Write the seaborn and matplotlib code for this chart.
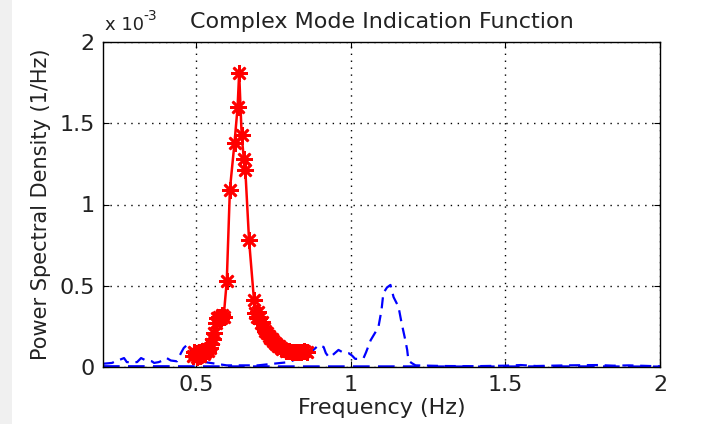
import matplotlib
matplotlib.use("Agg")
import matplotlib.pyplot as plt
import seaborn as sns
import pandas as pd
from matplotlib.patches import Rectangle

# ---- data (PSD values in units of 1e-3 1/Hz) ----
red_freq = [0.49, 0.495, 0.50, 0.505, 0.51, 0.515, 0.52, 0.525, 0.53, 0.535, 0.54, 0.545,
            0.55, 0.555, 0.56, 0.565, 0.57, 0.575, 0.58, 0.585, 0.59, 0.60, 0.61, 0.625,
            0.635, 0.64, 0.648, 0.655, 0.66, 0.672, 0.688, 0.692, 0.697, 0.70, 0.705, 0.71,
            0.715, 0.72, 0.725, 0.73, 0.735, 0.74, 0.745, 0.75, 0.755, 0.76, 0.765, 0.77,
            0.775, 0.78, 0.79, 0.80, 0.81, 0.82, 0.83, 0.84, 0.85, 0.86]
red_psd = [0.07, 0.09, 0.08, 0.06, 0.09, 0.07, 0.10, 0.08, 0.09, 0.11, 0.10, 0.12,
           0.14, 0.17, 0.21, 0.27, 0.30, 0.31, 0.30, 0.32, 0.31, 0.53, 1.09, 1.38,
           1.60, 1.81, 1.43, 1.28, 1.21, 0.78, 0.41, 0.33, 0.31, 0.34, 0.30, 0.27,
           0.28, 0.24, 0.22, 0.21, 0.19, 0.18, 0.17, 0.16, 0.15, 0.14, 0.13, 0.13,
           0.12, 0.11, 0.10, 0.10, 0.09, 0.09, 0.09, 0.09, 0.10, 0.09]

blue_freq = [0.20, 0.229, 0.24, 0.252, 0.268, 0.277, 0.29, 0.31, 0.323, 0.339, 0.358, 0.365,
             0.38, 0.397, 0.406, 0.419, 0.439, 0.452, 0.461, 0.471, 0.48, 0.50, 0.53, 0.60,
             0.70, 0.80, 0.84, 0.86, 0.88, 0.897, 0.913, 0.92, 0.93, 0.94, 0.961, 0.975,
             0.994, 1.005, 1.015, 1.026, 1.042, 1.05, 1.065, 1.09, 1.10, 1.106, 1.118, 1.129,
             1.139, 1.155, 1.165, 1.177, 1.183, 1.187, 1.197, 1.21, 1.30, 1.40, 1.50, 1.55,
             1.60, 1.70, 1.80, 1.85, 1.90, 2.00]
blue_psd = [0.02, 0.025, 0.035, 0.043, 0.055, 0.03, 0.03, 0.03, 0.055, 0.04, 0.035, 0.025,
            0.03, 0.043, 0.055, 0.04, 0.035, 0.086, 0.117, 0.135, 0.11, 0.08, 0.03, 0.01,
            0.01, 0.03, 0.06, 0.08, 0.105, 0.135, 0.123, 0.086, 0.06, 0.07, 0.105, 0.09,
            0.085, 0.07, 0.05, 0.05, 0.055, 0.09, 0.165, 0.245, 0.35, 0.455, 0.49, 0.505,
            0.43, 0.37, 0.27, 0.165, 0.105, 0.04, 0.025, 0.01, 0.006, 0.005, 0.008, 0.012,
            0.006, 0.01, 0.012, 0.008, 0.01, 0.004]

base_freq = [0.20, 0.40, 0.60, 0.80, 1.00, 1.20, 1.40, 1.60, 1.80, 2.00]
base_psd = [0.003, 0.003, 0.002, 0.002, 0.002, 0.002, 0.001, 0.002, 0.002, 0.001]

x_ticks = [0.5, 1, 1.5, 2]
x_tick_labels = ["0.5", "1", "1.5", "2"]
y_ticks = [0, 0.5, 1, 1.5, 2]
y_tick_labels = ["0", "0.5", "1", "1.5", "2"]

red_df = pd.DataFrame({"f": red_freq, "p": red_psd})
blue_df = pd.DataFrame({"f": blue_freq, "p": blue_psd})
base_df = pd.DataFrame({"f": base_freq, "p": base_psd})

sns.set_theme(style="white")
plt.rcParams["font.family"] = ["DejaVu Sans"]

TXT = "#222222"
fig = plt.figure(figsize=(7.25, 4.24), dpi=100)
fig.patch.set_facecolor("white")
fig.add_artist(Rectangle((0, 0), 12 / 725, 1, transform=fig.transFigure,
                         facecolor="#f0f0f0", edgecolor="none", zorder=-10))
ax = fig.add_axes([103 / 725, 1 - 367 / 424, (660 - 103) / 725, (367 - 42) / 424])

sns.lineplot(data=base_df, x="f", y="p", ax=ax, color="#0000ff", lw=2.0,
             linestyle=(0, (6, 3)), estimator=None, sort=False, zorder=2)
sns.lineplot(data=blue_df, x="f", y="p", ax=ax, color="#0000ff", lw=1.6,
             linestyle=(0, (5, 3)), estimator=None, sort=False, zorder=2)
sns.lineplot(data=red_df, x="f", y="p", ax=ax, color="#ff0000", lw=1.8,
             marker=(8, 2, 0), markersize=12, markeredgewidth=1.9,
             markeredgecolor="#ff0000", estimator=None, sort=False, zorder=3)

ax.set_xlim(0.2, 2)
ax.set_ylim(0, 2)
ax.set_xticks(x_ticks)
ax.set_xticklabels(x_tick_labels)
ax.set_yticks(y_ticks)
ax.set_yticklabels(y_tick_labels)
ax.grid(True, color="black", linestyle=(0, (1, 4)), linewidth=1.0)
for s in ax.spines.values():
    s.set_color("black")
    s.set_linewidth(1.0)
ax.tick_params(axis="both", direction="in", length=4, width=0.8, colors="black",
               labelsize=16, top=True, right=True, bottom=True, left=True, pad=6)
for lab in ax.get_xticklabels() + ax.get_yticklabels():
    lab.set_color(TXT)

ax.set_xlabel("Frequency (Hz)", fontsize=16, color=TXT, labelpad=2)
ax.set_ylabel("Power Spectral Density (1/Hz)", fontsize=15, color=TXT, labelpad=6)
ax.set_title("Complex Mode Indication Function", fontsize=16, color=TXT, pad=10)
fig.text(105 / 725, 1 - 25 / 424, "x 10", fontsize=13, color=TXT, ha="left", va="center")
fig.text(143 / 725, 1 - 16 / 424, "-3", fontsize=10, color=TXT, ha="left", va="center")

fig.savefig("out.png", dpi=100)
